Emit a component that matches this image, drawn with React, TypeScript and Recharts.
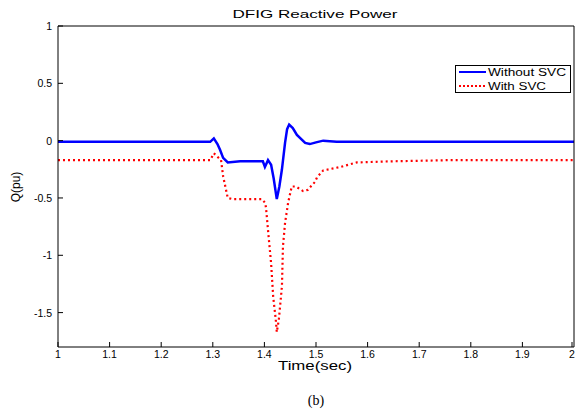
import React from "react";
import {
  LineChart, Line, XAxis, YAxis
} from "recharts";

// time (s) and Q (pu)
const withoutSvcT = [1.0, 1.2, 1.295, 1.302, 1.309, 1.314, 1.32, 1.329, 1.353, 1.397, 1.401, 1.407, 1.413, 1.418, 1.424, 1.429, 1.434, 1.44, 1.444, 1.448, 1.455, 1.463, 1.479, 1.488, 1.5, 1.514, 1.54, 1.6, 1.8, 2.0];
const withoutSvcQ = [-0.01, -0.01, -0.01, 0.02, -0.03, -0.08, -0.15, -0.19, -0.18, -0.18, -0.23, -0.17, -0.21, -0.33, -0.51, -0.4, -0.25, -0.02, 0.1, 0.14, 0.11, 0.05, -0.02, -0.03, -0.015, 0.0, -0.01, -0.01, -0.01, -0.01];

const withSvcT = [1.0, 1.2, 1.295, 1.302, 1.316, 1.32, 1.329, 1.339, 1.395, 1.401, 1.403, 1.407, 1.413, 1.417, 1.422, 1.424, 1.428, 1.434, 1.436, 1.44, 1.446, 1.453, 1.461, 1.475, 1.484, 1.498, 1.502, 1.514, 1.547, 1.579, 1.65, 1.76, 2.0];
const withSvcQ = [-0.17, -0.17, -0.17, -0.11, -0.17, -0.31, -0.5, -0.51, -0.51, -0.54, -0.58, -0.78, -1.07, -1.36, -1.56, -1.67, -1.56, -1.27, -0.92, -0.72, -0.54, -0.4, -0.4, -0.44, -0.43, -0.36, -0.32, -0.26, -0.23, -0.19, -0.18, -0.17, -0.17];

const xTicks = [1, 1.1, 1.2, 1.3, 1.4, 1.5, 1.6, 1.7, 1.8, 1.9, 2];
const yTicks = [-1.5, -1, -0.5, 0, 0.5, 1];

const withoutSvc = withoutSvcT.map((t, i) => ({ t, q: withoutSvcQ[i] }));
const withSvc = withSvcT.map((t, i) => ({ t, q: withSvcQ[i] }));

const FONT = "'Liberation Sans', Arial, sans-serif";

const BottomTick = (props: any) => {
  const { x, y, payload } = props;
  return (
    <g>
      <line x1={x} y1={y} x2={x} y2={y - 5} stroke="#000" />
      <text x={x} y={y + 11} textAnchor="middle" fontSize={10.5} fontFamily={FONT} fill="#000">
        {payload.value}
      </text>
    </g>
  );
};

const TopTick = (props: any) => {
  const { x, y } = props;
  return <line x1={x} y1={y} x2={x} y2={y + 5} stroke="#000" />;
};

const LeftTick = (props: any) => {
  const { x, y, payload } = props;
  return (
    <g>
      <line x1={x} y1={y} x2={x + 5} y2={y} stroke="#000" />
      <text x={x - 6} y={y + 4} textAnchor="end" fontSize={10.5} fontFamily={FONT} fill="#000">
        {payload.value}
      </text>
    </g>
  );
};

const RightTick = (props: any) => {
  const { x, y } = props;
  return <line x1={x} y1={y} x2={x - 5} y2={y} stroke="#000" />;
};

// titles, labels and legend drawn on top (the source figure is stretched sideways)
const Overlay = () => (
  <svg width={576} height={414} style={{ position: "absolute", left: 0, top: 0, pointerEvents: "none" }}>
    <text x={315} y={18} textAnchor="middle" fontSize={11} fontFamily={FONT}
      textLength={165} lengthAdjust="spacingAndGlyphs">DFIG Reactive Power</text>
    <text x={315} y={370} textAnchor="middle" fontSize={12} fontFamily={FONT}
      textLength={74} lengthAdjust="spacingAndGlyphs">Time(sec)</text>
    <text x={0} y={0} textAnchor="middle" fontSize={12} fontFamily={FONT}
      transform="translate(20,187) rotate(-90)">Q(pu)</text>
    <g>
      <rect x={455.5} y={65.5} width={115} height={27} fill="#fff" stroke="#000" />
      <line x1={459} y1={72} x2={486} y2={72} stroke="#0000ff" strokeWidth={2} />
      <text x={488} y={76} fontSize={10} fontFamily={FONT} textLength={78} lengthAdjust="spacingAndGlyphs">Without SVC</text>
      <line x1={459} y1={86} x2={486} y2={86} stroke="#ff0000" strokeWidth={2} strokeDasharray="2 2" />
      <text x={488} y={90} fontSize={10} fontFamily={FONT} textLength={58} lengthAdjust="spacingAndGlyphs">With SVC</text>
    </g>
    <text x={316} y={405} textAnchor="middle" fontSize={14}
      fontFamily="'Liberation Serif', 'Times New Roman', serif">(b)</text>
  </svg>
);

export default function App() {
  return (
    <div style={{ position: "absolute", left: 0, top: 0, width: 576, height: 414, background: "#fff" }}>
      <LineChart width={576} height={414} margin={{ top: 25, right: 1, bottom: 47, left: 0 }}>
        <XAxis
          xAxisId="b" dataKey="t" type="number" domain={[1, 2]} ticks={xTicks}
          allowDataOverflow stroke="#000" tickLine={false} tickSize={0} tickMargin={0}
          tick={<BottomTick />} height={20}
        />
        <XAxis
          xAxisId="top" orientation="top" dataKey="t" type="number" domain={[1, 2]} ticks={xTicks}
          stroke="#000" tickLine={false} tickSize={0} tickMargin={0} tick={<TopTick />} height={1}
        />
        <YAxis
          yAxisId="l" type="number" domain={[-1.8, 1]} ticks={yTicks} allowDataOverflow
          stroke="#000" tickLine={false} tickSize={0} tickMargin={0} tick={<LeftTick />} width={58}
        />
        <YAxis
          yAxisId="r" orientation="right" type="number" domain={[-1.8, 1]} ticks={yTicks}
          stroke="#000" tickLine={false} tickSize={0} tickMargin={0} tick={<RightTick />} width={1}
        />
        <Line
          xAxisId="b" yAxisId="l" data={withoutSvc} dataKey="q" name="Without SVC"
          stroke="#0000ff" strokeWidth={2.5} dot={false} isAnimationActive={false} type="linear"
        />
        <Line
          xAxisId="b" yAxisId="l" data={withSvc} dataKey="q" name="With SVC"
          stroke="#ff0000" strokeWidth={2.2} strokeDasharray="2 3" dot={false} isAnimationActive={false} type="linear"
        />
      </LineChart>
      <Overlay />
    </div>
  );
}
